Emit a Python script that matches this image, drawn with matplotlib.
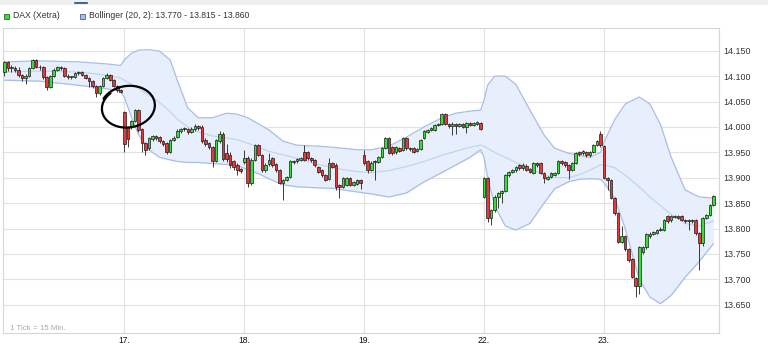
import numpy as np
import matplotlib
matplotlib.use('Agg')
import matplotlib.pyplot as plt
from matplotlib.lines import Line2D
from matplotlib.patches import Rectangle

plt.rcParams['font.family'] = ['Liberation Sans', 'DejaVu Sans']

# DAX (Xetra), 15 min candles, 34 per day (16., 17., 18., 19., 22.) + 32 on 23.
opens = [
    14.108, 14.127, 14.115, 14.116, 14.113, 14.102, 14.097, 14.100, 14.116, 14.131, 14.118, 14.117,
    14.099, 14.079, 14.100, 14.113, 14.118, 14.115, 14.101, 14.098, 14.099, 14.106, 14.109, 14.103,
    14.097, 14.090, 14.081, 14.067, 14.081, 14.097, 14.103, 14.093, 14.081, 14.072,
    14.030, 13.999, 14.002, 14.012, 14.033, 13.995, 13.968, 13.958, 13.977, 13.982, 13.980, 13.972,
    13.968, 13.951, 13.975, 13.980, 13.992, 13.995, 13.995, 13.990, 13.995, 14.001, 14.000, 13.975,
    13.968, 13.961, 13.933, 13.972, 13.986, 13.948, 13.945, 13.932, 13.925, 13.918,
    13.930, 13.938, 13.889, 13.935, 13.964, 13.945, 13.915, 13.927, 13.938, 13.926, 13.916, 13.890,
    13.896, 13.902, 13.930, 13.932, 13.935, 13.951, 13.950, 13.938, 13.934, 13.922, 13.915, 13.905,
    13.898, 13.928, 13.925, 13.885, 13.882, 13.885, 13.899, 13.886, 13.888, 13.896,
    13.945, 13.932, 13.915, 13.933, 13.930, 13.941, 13.958, 13.978, 13.960, 13.950, 13.958, 13.955,
    13.978, 13.958, 13.958, 13.952, 13.956, 13.978, 13.990, 13.994, 13.994, 14.004, 14.006, 14.025,
    14.006, 14.002, 14.006, 14.002, 14.005, 14.000, 14.007, 14.003, 14.006, 14.007,
    13.863, 13.899, 13.820, 13.836, 13.863, 13.869, 13.873, 13.905, 13.912, 13.915, 13.925, 13.919,
    13.924, 13.918, 13.910, 13.928, 13.928, 13.910, 13.898, 13.901, 13.906, 13.909, 13.932, 13.930,
    13.925, 13.915, 13.928, 13.950, 13.948, 13.950, 13.944, 13.950, 13.965, 13.987,
    13.962, 13.900, 13.896, 13.861, 13.830, 13.774, 13.786, 13.760, 13.740, 13.702, 13.686, 13.754,
    13.764, 13.785, 13.790, 13.791, 13.797, 13.797, 13.824, 13.817, 13.823, 13.824, 13.824, 13.817,
    13.814, 13.817, 13.817, 13.791, 13.771, 13.820, 13.826, 13.846,
]
highs = [
    14.130, 14.130, 14.122, 14.120, 14.118, 14.104, 14.104, 14.118, 14.133, 14.133, 14.122, 14.120,
    14.101, 14.102, 14.116, 14.120, 14.120, 14.118, 14.104, 14.101, 14.109, 14.111, 14.111, 14.105,
    14.099, 14.092, 14.083, 14.083, 14.099, 14.106, 14.105, 14.095, 14.083, 14.074,
    14.032, 14.001, 14.014, 14.036, 14.036, 13.997, 13.970, 13.980, 13.985, 13.984, 13.982, 13.974,
    13.970, 13.977, 13.982, 13.995, 13.997, 13.999, 13.998, 13.999, 14.005, 14.004, 14.003, 13.978,
    13.970, 13.963, 13.976, 13.992, 13.990, 13.967, 13.950, 13.935, 13.928, 13.920,
    13.955, 13.942, 13.938, 13.966, 13.966, 13.947, 13.928, 13.948, 13.941, 13.928, 13.918, 13.898,
    13.904, 13.934, 13.934, 13.939, 13.941, 13.964, 13.953, 13.941, 13.936, 13.924, 13.917, 13.907,
    13.938, 13.931, 13.928, 13.888, 13.901, 13.901, 13.902, 13.894, 13.898, 13.898,
    13.955, 13.935, 13.932, 13.935, 13.943, 13.960, 13.980, 13.980, 13.962, 13.963, 13.960, 13.980,
    13.980, 13.960, 13.960, 13.958, 13.976, 13.993, 13.996, 13.999, 14.006, 14.008, 14.027, 14.027,
    14.008, 14.009, 14.008, 14.008, 14.008, 14.009, 14.009, 14.010, 14.012, 14.009,
    13.901, 13.901, 13.838, 13.865, 13.872, 13.875, 13.907, 13.914, 13.917, 13.924, 13.927, 13.928,
    13.926, 13.920, 13.930, 13.930, 13.930, 13.912, 13.904, 13.911, 13.911, 13.934, 13.934, 13.932,
    13.927, 13.930, 13.950, 13.952, 13.954, 13.952, 13.952, 13.967, 13.974, 13.991,
    13.964, 13.902, 13.898, 13.863, 13.832, 13.804, 13.788, 13.762, 13.742, 13.704, 13.766, 13.766,
    13.792, 13.793, 13.796, 13.799, 13.802, 13.819, 13.826, 13.826, 13.827, 13.826, 13.826, 13.819,
    13.819, 13.819, 13.819, 13.793, 13.822, 13.828, 13.848, 13.866,
]
lows = [
    14.100, 14.110, 14.108, 14.108, 14.098, 14.090, 14.085, 14.098, 14.114, 14.115, 14.112, 14.095,
    14.072, 14.077, 14.098, 14.110, 14.112, 14.098, 14.095, 14.094, 14.096, 14.103, 14.100, 14.094,
    14.078, 14.077, 14.058, 14.063, 14.079, 14.094, 14.090, 14.078, 14.068, 14.066,
    13.951, 13.960, 13.995, 14.010, 13.990, 13.951, 13.945, 13.955, 13.972, 13.975, 13.968, 13.962,
    13.946, 13.949, 13.972, 13.978, 13.988, 13.991, 13.987, 13.988, 13.992, 13.994, 13.968, 13.963,
    13.957, 13.922, 13.930, 13.968, 13.933, 13.930, 13.920, 13.915, 13.905, 13.910,
    13.926, 13.882, 13.886, 13.933, 13.942, 13.912, 13.912, 13.924, 13.922, 13.912, 13.887, 13.856,
    13.893, 13.900, 13.927, 13.929, 13.932, 13.932, 13.935, 13.931, 13.922, 13.909, 13.902, 13.893,
    13.895, 13.919, 13.876, 13.860, 13.879, 13.883, 13.884, 13.883, 13.885, 13.878,
    13.925, 13.910, 13.913, 13.896, 13.928, 13.939, 13.956, 13.946, 13.945, 13.947, 13.950, 13.953,
    13.955, 13.953, 13.948, 13.950, 13.954, 13.976, 13.988, 13.992, 13.992, 14.002, 14.004, 14.003,
    13.998, 13.985, 13.986, 14.000, 13.997, 13.988, 14.001, 14.001, 14.004, 13.993,
    13.860, 13.813, 13.806, 13.832, 13.840, 13.850, 13.871, 13.902, 13.910, 13.912, 13.916, 13.916,
    13.913, 13.909, 13.908, 13.922, 13.907, 13.890, 13.896, 13.899, 13.904, 13.907, 13.925, 13.922,
    13.898, 13.913, 13.926, 13.943, 13.945, 13.940, 13.941, 13.948, 13.962, 13.960,
    13.897, 13.875, 13.858, 13.827, 13.771, 13.771, 13.756, 13.735, 13.702, 13.666, 13.672, 13.750,
    13.760, 13.782, 13.787, 13.789, 13.795, 13.795, 13.811, 13.812, 13.821, 13.818, 13.814, 13.811,
    13.797, 13.811, 13.788, 13.718, 13.765, 13.818, 13.824, 13.844,
]
closes = [
    14.127, 14.115, 14.118, 14.112, 14.102, 14.097, 14.100, 14.116, 14.131, 14.118, 14.117, 14.099,
    14.079, 14.100, 14.113, 14.118, 14.115, 14.101, 14.098, 14.099, 14.106, 14.109, 14.103, 14.097,
    14.090, 14.081, 14.067, 14.081, 14.097, 14.103, 14.093, 14.081, 14.072, 14.068,
    13.966, 13.976, 14.012, 14.033, 13.993, 13.968, 13.955, 13.978, 13.982, 13.979, 13.972, 13.966,
    13.951, 13.975, 13.979, 13.992, 13.995, 13.997, 13.990, 13.996, 14.002, 13.997, 13.972, 13.967,
    13.961, 13.932, 13.974, 13.986, 13.936, 13.936, 13.925, 13.922, 13.915, 13.913,
    13.938, 13.889, 13.935, 13.964, 13.945, 13.915, 13.925, 13.935, 13.925, 13.915, 13.890, 13.896,
    13.902, 13.932, 13.932, 13.937, 13.938, 13.935, 13.938, 13.934, 13.925, 13.912, 13.905, 13.896,
    13.928, 13.922, 13.882, 13.882, 13.899, 13.899, 13.886, 13.892, 13.896, 13.890,
    13.929, 13.915, 13.929, 13.930, 13.941, 13.958, 13.978, 13.948, 13.948, 13.961, 13.953, 13.978,
    13.958, 13.956, 13.951, 13.956, 13.974, 13.991, 13.994, 13.997, 14.004, 14.006, 14.025, 14.006,
    14.002, 14.006, 14.002, 14.005, 14.000, 14.007, 14.003, 14.008, 14.010, 13.995,
    13.899, 13.820, 13.836, 13.863, 13.870, 13.873, 13.905, 13.912, 13.915, 13.922, 13.919, 13.925,
    13.916, 13.912, 13.928, 13.925, 13.910, 13.900, 13.902, 13.909, 13.909, 13.932, 13.928, 13.925,
    13.915, 13.928, 13.948, 13.946, 13.952, 13.944, 13.950, 13.965, 13.972, 13.964,
    13.900, 13.896, 13.861, 13.830, 13.774, 13.786, 13.760, 13.738, 13.705, 13.686, 13.764, 13.764,
    13.790, 13.790, 13.794, 13.797, 13.800, 13.817, 13.814, 13.824, 13.825, 13.820, 13.817, 13.814,
    13.817, 13.814, 13.791, 13.771, 13.820, 13.826, 13.846, 13.864,
]

# Bollinger (20, 2) at some candle positions
band_pos = [0, 10, 21, 29, 33, 34, 36, 38, 41, 44, 47, 49, 52, 55, 59, 63, 66, 69, 72, 75, 79, 83,
            86, 89, 93, 96, 100, 104, 109, 114, 119, 124, 128, 132, 135, 136, 137, 139, 142, 145,
            149, 153, 156, 160, 163, 166, 169, 170, 173, 176, 180, 183, 186, 189, 193, 197, 201]
band_upper = [14.128, 14.130, 14.128, 14.124, 14.121, 14.132, 14.145, 14.151, 14.152, 14.149,
              14.132, 14.092, 14.037, 14.018, 14.018, 14.027, 14.025, 14.018, 14.006, 13.994,
              13.972, 13.964, 13.963, 13.962, 13.960, 13.958, 13.955, 13.955, 13.962, 13.980,
              14.000, 14.018, 14.027, 14.031, 14.033, 14.053, 14.082, 14.100, 14.100, 14.084,
              14.033, 13.984, 13.958, 13.948, 13.944, 13.940, 13.950, 13.970, 14.014, 14.045,
              14.059, 14.045, 14.005, 13.941, 13.876, 13.862, 13.860]
band_mid = [14.108, 14.110, 14.108, 14.102, 14.096, 14.092, 14.084, 14.076, 14.062, 14.048,
            14.030, 14.015, 14.000, 13.990, 13.982, 13.978, 13.975, 13.968, 13.960, 13.952,
            13.945, 13.938, 13.932, 13.926, 13.920, 13.916, 13.912, 13.910, 13.914, 13.922,
            13.932, 13.944, 13.952, 13.960, 13.964, 13.962, 13.958, 13.950, 13.940, 13.930,
            13.918, 13.905, 13.900, 13.900, 13.906, 13.915, 13.925, 13.925, 13.920, 13.905,
            13.882, 13.862, 13.845, 13.828, 13.810, 13.805, 13.815]
band_lower = [14.092, 14.090, 14.082, 14.075, 14.070, 14.058, 14.020, 13.985, 13.955, 13.940,
              13.935, 13.932, 13.930, 13.930, 13.928, 13.926, 13.924, 13.916, 13.908, 13.898,
              13.886, 13.882, 13.881, 13.880, 13.879, 13.876, 13.872, 13.868, 13.862, 13.870,
              13.892, 13.910, 13.925, 13.940, 13.955, 13.940, 13.900, 13.845, 13.805, 13.797,
              13.810, 13.850, 13.878, 13.892, 13.897, 13.898, 13.897, 13.890, 13.860, 13.800,
              13.700, 13.665, 13.652, 13.668, 13.704, 13.735, 13.770]

day_labels = ['17.', '18.', '19.', '22.', '23.']
day_pos = [34, 68, 102, 136, 170]
y_ticks = [13.65, 13.70, 13.75, 13.80, 13.85, 13.90, 13.95, 14.00, 14.05, 14.10, 14.15]
y_labels = ['13.650', '13.700', '13.750', '13.800', '13.850', '13.900', '13.950',
            '14.000', '14.050', '14.100', '14.150']

W, H = 768, 345
fig = plt.figure(figsize=(W / 100, H / 100), dpi=100)
ax = fig.add_axes([3 / W, 12 / H, 716 / W, 305 / H])

# bollinger band
bx = np.array(band_pos)
ax.fill_between(bx, band_lower, band_upper, color='#e7eefc', lw=0, zorder=1)
ax.plot(bx, band_upper, color='#a8bee7', lw=0.9, zorder=2)
ax.plot(bx, band_lower, color='#a8bee7', lw=0.9, zorder=2)
ax.plot(bx, band_mid, color='#c4d4f0', lw=0.9, zorder=2)

# candles
o = np.array(opens)
c = np.array(closes)
x = np.arange(len(o))
up = c >= o
ax.vlines(x, lows, highs, color='#3a3a3a', lw=0.7, zorder=3)
body = np.maximum(np.abs(c - o), 0.0015)
ax.bar(x[up], body[up], bottom=o[up], width=0.74, color='#36e036',
       edgecolor='#1a1a1a', linewidth=0.5, zorder=4)
ax.bar(x[~up], body[~up], bottom=c[~up], width=0.74, color='#e8393a',
       edgecolor='#1a1a1a', linewidth=0.5, zorder=4)

ax.set_xlim(-0.4, 202.6)
ax.set_ylim(13.5943, 14.1947)
ax.set_xticks(day_pos)
ax.set_xticklabels(day_labels)
ax.set_yticks(y_ticks)
ax.set_yticklabels(y_labels)
ax.yaxis.tick_right()
ax.tick_params(axis='y', length=0, pad=3, labelsize=6.4, labelcolor='#333333')
ax.tick_params(axis='x', length=0, pad=2.5, labelsize=6.2, labelcolor='#111111')
ax.grid(True, color='#e2e2e2', lw=0.8, zorder=0)
ax.set_axisbelow(True)
for s in ax.spines.values():
    s.set_color('#d6d6d6')
    s.set_linewidth(0.8)

ax.text(7 / 716, 4 / 305, '1 Tick = 15 Min.', transform=ax.transAxes,
        fontsize=5.7, color='#a8a8a8', va='center', ha='left')

# header strip and legend
fig.add_artist(Rectangle((0, 1 - 5 / H), 1, 5 / H, transform=fig.transFigure,
                         color='#eeeeee', lw=0))
fig.add_artist(Line2D([75 / W, 87 / W], [1 - 3 / H] * 2, transform=fig.transFigure,
                      color='#1f4e8c', lw=1.2))
fig.add_artist(Rectangle((3.5 / W, 1 - 18.5 / H), 5.5 / W, 5 / H, transform=fig.transFigure,
                         facecolor='#36e036', edgecolor='#2a6a2a', lw=0.6))
fig.text(12.7 / W, 1 - 16 / H, 'DAX (Xetra)', fontsize=6.2, color='#333333', va='center')
fig.add_artist(Rectangle((79.5 / W, 1 - 18.5 / H), 5.5 / W, 5 / H, transform=fig.transFigure,
                         facecolor='#a8bee7', edgecolor='#4a6496', lw=0.6))
fig.text(89 / W, 1 - 16 / H, 'Bollinger (20, 2): 13.770 - 13.815 - 13.860',
         fontsize=6.2, color='#333333', va='center')

# hand drawn circle around the 17. opening gap
t = np.linspace(2.2, 2.2 + 2 * np.pi + 0.35, 200)
grow = 1 + 0.06 * (t - t[0]) / (2 * np.pi)
dx = 26 * np.cos(t) * grow
dy = -20 * np.sin(t) * grow
th = -0.15
px = 128 + dx * np.cos(th) - dy * np.sin(th)
py = 107 + dx * np.sin(th) + dy * np.cos(th)
fig.add_artist(Line2D(px / W, 1 - py / H, transform=fig.transFigure,
                      color='black', lw=1.6, solid_capstyle='round'))

fig.savefig('out.png', dpi=100)
